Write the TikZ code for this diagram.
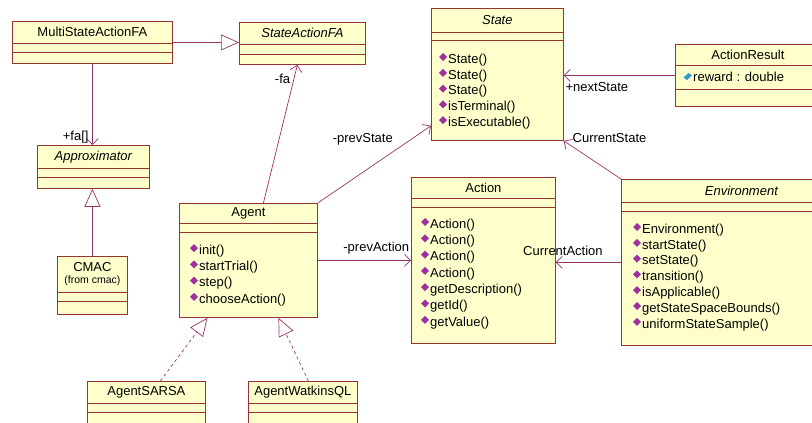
\documentclass[tikz,border=0pt]{standalone}
\usepackage{fontspec}
\setmainfont{Liberation Sans}
\usetikzlibrary{arrows.meta, positioning, calc}
\definecolor{clsfill}{HTML}{FFFFCC}
\definecolor{clsdraw}{HTML}{993333}
\definecolor{lnkdraw}{HTML}{993366}
\definecolor{opfill}{HTML}{A030A0}
\definecolor{attfill}{HTML}{3399CC}
\tikzset{
  cls/.style={rectangle, draw=clsdraw, fill=clsfill, line width=0.8pt, inner sep=0pt, anchor=north west},
  clsname/.style={anchor=north, inner sep=0pt, align=center, font=\fontsize{13}{13.5}\selectfont},
  absname/.style={clsname, font=\fontsize{13}{13.5}\selectfont\itshape},
  sep/.style={draw=clsdraw, line width=0.8pt},
  op/.style={anchor=west, inner sep=0pt, font=\fontsize{13}{13.5}\selectfont},
  lab/.style={inner sep=1.5pt, font=\fontsize{13}{13.5}\selectfont},
  lnk/.style={draw=lnkdraw, line width=0.7pt},
  assoc/.style={lnk, -{Straight Barb[length=6pt, width=12pt]}},
  gen/.style={lnk, -{Triangle[open, length=18pt, width=16pt, fill=white]}},
  real/.style={gen, dashed},
  opmark/.pic={\fill[opfill] (-9,-3) -- (-5,-7) -- (-1,-3) -- (-5,1) -- cycle;},
  attmark/.pic={\fill[attfill] (-9.5,0.5) -- (-4.5,-4) -- (-1,-1.5) -- (-6,3) -- cycle;},
}
\begin{document}
\begin{tikzpicture}[x=1pt, y=-1pt]
  \useasboundingbox (0,0) rectangle (812,423);
  \clip (0,0) rectangle (812,423);
  % class boxes
  \node[cls, minimum width=160, minimum height=42] (msafa) at (12,21) {};
  \node[cls, minimum width=126, minimum height=42] (safa) at (239,22) {};
  \node[cls, minimum width=112, minimum height=43] (approx) at (37,145) {};
  \node[cls, minimum width=70, minimum height=58] (cmac) at (57,256) {};
  \node[cls, minimum width=138, minimum height=114] (agent) at (179,203) {};
  \node[cls, minimum width=132, minimum height=132] (state) at (431,8) {};
  \node[cls, minimum width=145, minimum height=62] (ar) at (675,44) {};
  \node[cls, minimum width=144, minimum height=166] (action) at (411,177) {};
  \node[cls, minimum width=240, minimum height=166] (env) at (621,179) {};
  \node[cls, minimum width=118, minimum height=50] (sarsa) at (87,381) {};
  \node[cls, minimum width=109, minimum height=50] (wq) at (248,381) {};
  % names
  \node[clsname, minimum height=22] (msafa-n) at (msafa.north) {MultiStateActionFA};
  \node[absname, minimum height=22] (safa-n) at (safa.north) {StateActionFA};
  \node[absname, minimum height=23] (approx-n) at (approx.north) {Approximator};
  \node[clsname, minimum height=36] (cmac-n) at (cmac.north) {CMAC\\[-1pt]{\fontsize{10.5}{11}\selectfont (from cmac)}};
  \node[clsname, minimum height=20] (agent-n) at (agent.north) {Agent};
  \node[absname, minimum height=24] (state-n) at (state.north) {State};
  \node[clsname, minimum height=21] (ar-n) at (ar.north) {ActionResult};
  \node[clsname, minimum height=21] (action-n) at (action.north) {Action};
  \node[absname, minimum height=23] (env-n) at (env.north) {Environment};
  \node[clsname, minimum height=22] (sarsa-n) at (sarsa.north) {AgentSARSA};
  \node[clsname, minimum height=22] (wq-n) at (wq.north) {AgentWatkinsQL};
  % compartments
  \foreach \b/\h in {msafa/22, msafa/31, safa/22, safa/32, approx/23, approx/32,
      cmac/36, cmac/45, agent/20, agent/29, state/24, state/32, ar/21, ar/45,
      action/21, action/30, env/23, env/32, sarsa/22, sarsa/31, wq/22, wq/31}
    \draw[sep] ([yshift=-\h]\b.north west) -- ([yshift=-\h]\b.north east);
  % operations
  \foreach \m [count=\i] in {init(), startTrial(), step(), chooseAction()}{
    \node[op] (agent-op\i) at ([shift={(20,{48+16.3*(\i-1)})}]agent.north west) {\m};
    \pic at (agent-op\i.west) {opmark};
  }
  \foreach \m [count=\i] in {State(), State(), State(), isTerminal(), isExecutable()}{
    \node[op] (state-op\i) at ([shift={(17,{52+15.8*(\i-1)})}]state.north west) {\m};
    \pic at (state-op\i.west) {opmark};
  }
  \foreach \m [count=\i] in {Action(), Action(), Action(), Action(), getDescription(), getId(), getValue()}{
    \node[op] (action-op\i) at ([shift={(19,{48+16.3*(\i-1)})}]action.north west) {\m};
    \pic at (action-op\i.west) {opmark};
  }
  \foreach \m [count=\i] in {Environment(), startState(), setState(), transition(),
      isApplicable(), getStateSpaceBounds(), uniformStateSample()}{
    \node[op] (env-op\i) at ([shift={(21,{51+15.8*(\i-1)})}]env.north west) {\m};
    \pic at (env-op\i.west) {opmark};
  }
  \node[op] (ar-att1) at ([shift={(18,33)}]ar.north west) {reward : double};
  \pic at (ar-att1.west) {attmark};
  % relations
  \draw[gen] (msafa.east) -- (msafa.east -| safa.west);
  \draw[assoc] (msafa.south) -- (msafa.south |- approx.north)
    node[lab, pos=1, anchor=south east, xshift=-2pt] {+fa[]};
  \draw[gen] (cmac.north) -- (cmac.north |- approx.south);
  \draw[assoc] ([xshift=15]agent.north) -- ([xshift=-5]safa.south)
    node[lab, pos=0.9, left=2pt] {-fa};
  \draw[assoc] (agent.north east) -- ([yshift=15]state.south west)
    node[lab, pos=0.82, left=16pt] {-prevState};
  \draw[assoc] (ar.west) -- (ar.west -| state.east)
    node[lab, pos=1, below right, yshift=-5] {+nextState};
  \draw[assoc] (env.north west) -- (state.south east)
    node[lab, pos=1, right=7pt, yshift=3] {CurrentState};
  \draw[assoc] (agent.east) -- (action.west)
    node[lab, pos=1, above left, yshift=4] {-prevAction};
  \draw[assoc] (env.west) -- (env.west -| action.east)
    node[lab, pos=0.89, above=5pt] {CurrentAction};
  \draw[real] ([xshift=14]sarsa.north) -- ([xshift=-41]agent.south);
  \draw[real] ([xshift=5.5]wq.north) -- ([xshift=30]agent.south);
\end{tikzpicture}
\end{document}
